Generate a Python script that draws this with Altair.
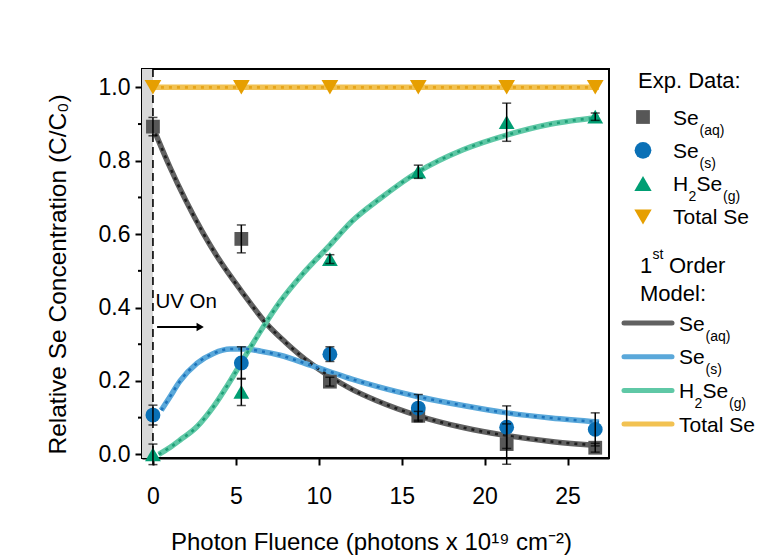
import altair as alt
import pandas as pd

# ---------------- measured data ----------------
fluence = [0.0, 5.33, 10.67, 16.0, 21.33, 26.67]

se_aq = [0.893, 0.587, 0.198, 0.105, 0.028, 0.018]
se_aq_err = [0.025, 0.038, 0.012, 0.012, 0.055, 0.012]

se_s = [0.107, 0.249, 0.273, 0.126, 0.074, 0.068]
se_s_err = [0.027, 0.044, 0.020, 0.037, 0.058, 0.045]

h2se = [0.0, 0.170, 0.532, 0.770, 0.905, 0.920]
h2se_err = [0.028, 0.037, 0.012, 0.018, 0.052, 0.010]

total_se = [1.0, 1.0, 1.0, 1.0, 1.0, 1.0]

# ---------------- first order model curves ----------------
m_aq_x = [0.15, 1, 2, 3, 4, 5.33, 6.87, 8, 9.5, 10.67, 12, 13.5, 16, 18.7, 21.33, 24, 26.9]
m_aq_y = [0.875, 0.785, 0.69, 0.605, 0.53, 0.445, 0.355, 0.305, 0.248, 0.212, 0.177, 0.146,
          0.105, 0.073, 0.051, 0.035, 0.024]

m_s_x = [0.5, 1, 1.64, 2.65, 3.65, 4.66, 5.5, 6.5, 7.67, 9.48, 10.67, 12, 13.5, 16, 18.7,
         21.33, 24, 26.9]
m_s_y = [0.12, 0.155, 0.20, 0.248, 0.275, 0.287, 0.287, 0.281, 0.27, 0.243, 0.225, 0.205,
         0.185, 0.157, 0.133, 0.113, 0.099, 0.088]

m_g_x = [0.35, 1, 1.64, 2.65, 3.65, 4.66, 5.66, 6.66, 7.67, 9, 10.67, 12, 13.7, 16, 18.7,
         21.33, 24, 26.9]
m_g_y = [0.0, 0.018, 0.039, 0.075, 0.13, 0.20, 0.275, 0.348, 0.416, 0.49, 0.57, 0.635,
         0.697, 0.77, 0.83, 0.87, 0.90, 0.918]

m_t_x = [0.0, 26.9]
m_t_y = [1.0, 1.0]

series = ["Se(aq)", "Se(s)", "H2Se(g)", "Total Se"]
marker_color = ["#575757", "#0a70b6", "#009e73", "#e69f00"]
line_color = ["#616161", "#5aa8da", "#5fc8a6", "#f2c252"]
dot_color = ["#1e1e1e", "#1d74bb", "#1f9f78", "#e5a41a"]
shapes = ["square", "circle", "triangle-up", "triangle-down"]
sizes = [190, 280, 300, 300]

y_minor = [0.1, 0.3, 0.5, 0.7, 0.9]

FONT = "Liberation Sans"

# ---------------- tables ----------------
meas = pd.concat([
    pd.DataFrame({"series": s, "x": fluence, "y": y, "err": e})
    for s, y, e in zip(series, [se_aq, se_s, h2se, total_se],
                       [se_aq_err, se_s_err, h2se_err, [0.0] * 6])
], ignore_index=True)
meas["lo"] = meas["y"] - meas["err"]
meas["hi"] = meas["y"] + meas["err"]
errs = meas[meas["err"] > 0]

model = pd.concat([
    pd.DataFrame({"series": s, "x": xs, "y": ys, "light": lc, "dark": dc})
    for s, xs, ys, lc, dc in zip(series, [m_aq_x, m_s_x, m_g_x, m_t_x],
                                 [m_aq_y, m_s_y, m_g_y, m_t_y], line_color, dot_color)
], ignore_index=True)

xs = alt.Scale(domain=[-0.66, 27.5], nice=False, zero=False)
ys = alt.Scale(domain=[-0.01, 1.05], nice=False, zero=False)

X = alt.X("x:Q", scale=xs,
          axis=alt.Axis(values=[0, 5, 10, 15, 20, 25], format="d",
                        title="Photon Fluence (photons x 10¹⁹ cm⁻²)", grid=False,
                        tickSize=7, tickWidth=2, domainWidth=2, domainColor="black",
                        tickColor="black", labelPadding=20, titlePadding=22,
                        titleX=229,
                        labelFontSize=23, titleFontSize=24, labelFont=FONT,
                        titleFont=FONT, titleFontWeight="normal", labelColor="black",
                        titleColor="black"))
Y = alt.Y("y:Q", scale=ys,
          axis=alt.Axis(values=[0, 0.2, 0.4, 0.6, 0.8, 1.0], format=".1f",
                        title="Relative Se Concentration (C/C₀)", grid=False,
                        tickSize=7, tickWidth=2, domainWidth=2, domainColor="black",
                        tickColor="black", labelPadding=5, titlePadding=28,
                        titleY=205,
                        labelFontSize=23, titleFontSize=24.5, labelFont=FONT,
                        titleFont=FONT, titleFontWeight="normal", labelColor="black",
                        titleColor="black"))

# UV-off region and the switch-on marker
shade = alt.Chart(pd.DataFrame({"x0": [-0.66], "x1": [0.0]})).mark_rect(
    color="#d8d8d8").encode(x=alt.X("x0:Q", scale=xs), x2="x1:Q",
                            y=alt.value(0), y2=alt.value(389))
uv_line = alt.Chart(pd.DataFrame({"x": [0.0]})).mark_rule(
    color="black", strokeWidth=1.6, strokeDash=[8, 5]).encode(
    x=alt.X("x:Q", scale=xs), y=alt.value(0), y2=alt.value(389))

# model lines: wide translucent stroke with a dotted core
thick = alt.Chart(model).mark_line(strokeWidth=5.5, interpolate="monotone").encode(
    x=X, y=Y, detail="series:N", color=alt.Color("light:N", scale=None))
dotted = alt.Chart(model).mark_line(strokeWidth=2.6, strokeDash=[3, 5],
                                    interpolate="monotone").encode(
    x=alt.X("x:Q", scale=xs), y=alt.Y("y:Q", scale=ys), detail="series:N",
    color=alt.Color("dark:N", scale=None))

points = alt.Chart(meas).mark_point(filled=True, opacity=1, strokeWidth=0).encode(
    x=alt.X("x:Q", scale=xs), y=alt.Y("y:Q", scale=ys),
    shape=alt.Shape("series:N", scale=alt.Scale(domain=series, range=shapes), legend=None),
    color=alt.Color("series:N", scale=alt.Scale(domain=series, range=marker_color),
                    legend=None),
    size=alt.Size("series:N", scale=alt.Scale(domain=series, range=sizes), legend=None))

bars = alt.Chart(errs).mark_rule(color="black", strokeWidth=1.5).encode(
    x=alt.X("x:Q", scale=xs), y=alt.Y("lo:Q", scale=ys), y2="hi:Q")
caps_lo = alt.Chart(errs).mark_tick(color="black", orient="horizontal", size=9,
                                    thickness=1.5).encode(
    x=alt.X("x:Q", scale=xs), y=alt.Y("lo:Q", scale=ys))
caps_hi = alt.Chart(errs).mark_tick(color="black", orient="horizontal", size=9,
                                    thickness=1.5).encode(
    x=alt.X("x:Q", scale=xs), y=alt.Y("hi:Q", scale=ys))

minor = alt.Chart(pd.DataFrame({"v": y_minor})).mark_rule(
    color="black", strokeWidth=2).encode(
    x=alt.value(-4), x2=alt.value(0), y=alt.Y("v:Q", scale=ys))

# "UV On" annotation with arrow
uv_text = alt.Chart(pd.DataFrame({"x": [0.15], "y": [0.414], "t": ["UV On"]})).mark_text(
    align="left", baseline="middle", font=FONT, fontSize=20.5, color="black").encode(
    x=alt.X("x:Q", scale=xs), y=alt.Y("y:Q", scale=ys), text="t:N")
arrow_shaft = alt.Chart(pd.DataFrame({"x": [0.25], "x2": [2.7], "y": [0.347]})).mark_rule(
    color="black", strokeWidth=2).encode(
    x=alt.X("x:Q", scale=xs), x2="x2:Q", y=alt.Y("y:Q", scale=ys))
arrow_head = alt.Chart(pd.DataFrame({"x": [2.85], "y": [0.347]})).mark_point(
    shape="triangle-right", filled=True, color="black", size=70, opacity=1).encode(
    x=alt.X("x:Q", scale=xs), y=alt.Y("y:Q", scale=ys))


# ---------------- legend (pixel layout, relative to the plot origin) ----------------
def txt(t, px, py, size=21, baseline="alphabetic"):
    return alt.Chart(pd.DataFrame({"t": [t]})).mark_text(
        align="left", baseline=baseline, font=FONT, fontSize=size, color="black").encode(
        x=alt.value(px), y=alt.value(py), text="t:N")


def name_parts(i, px, row):
    base = row + 7.5
    sub = base + 10
    if i == 0:
        return [txt("Se", px, base), txt("(aq)", px + 26.5, sub, 14)]
    if i == 1:
        return [txt("Se", px, base), txt("(s)", px + 26.5, sub, 14)]
    if i == 2:
        return [txt("H", px, base), txt("2", px + 15.5, sub, 14),
                txt("Se", px + 23.5, base), txt("(g)", px + 50, sub, 14)]
    return [txt("Total Se", px, base)]


legend = [txt("Exp. Data:", 496, 12, 22, "middle")]
for i in range(4):
    row = 48 + 33.3 * i
    legend.append(alt.Chart(pd.DataFrame({"a": [0]})).mark_point(
        filled=True, opacity=1, strokeWidth=0, shape=shapes[i], color=marker_color[i],
        size=sizes[i]).encode(x=alt.value(501), y=alt.value(row)))
    legend += name_parts(i, 531, row)

legend += [txt("1", 498, 203.5, 22), txt("st", 510.5, 190, 14), txt("Order", 527, 203.5, 22),
           txt("Model:", 498, 231.5, 22)]
for i in range(4):
    row = 254 + 33.7 * i
    legend.append(alt.Chart(pd.DataFrame({"a": [0]})).mark_rule(
        color=line_color[i], strokeWidth=5, strokeCap="round").encode(
        x=alt.value(482), x2=alt.value(530), y=alt.value(row)))
    legend += name_parts(i, 537, row)

chart = alt.layer(
    shade, uv_line, thick, dotted, points, bars, caps_lo, caps_hi, minor,
    uv_text, arrow_shaft, arrow_head, *legend
).properties(
    width=467, height=389,
    autosize=alt.AutoSizeParams(type="none"),
    padding={"left": 142, "top": 69, "right": 152, "bottom": 100},
    background="white",
).configure_view(stroke="black", strokeWidth=2)

chart.save("out.html", embed_options={"renderer": "svg", "actions": False})
